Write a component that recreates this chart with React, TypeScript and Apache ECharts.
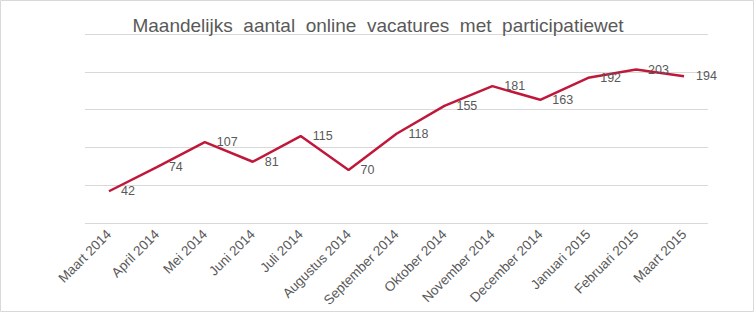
import React, { useEffect, useRef } from "react";
import * as echarts from "echarts";

const titleText = "Maandelijks  aantal  online  vacatures  met  participatiewet";
const categories = [
  "Maart 2014",
  "April 2014",
  "Mei 2014",
  "Juni 2014",
  "Juli 2014",
  "Augustus 2014",
  "September 2014",
  "Oktober 2014",
  "November 2014",
  "December 2014",
  "Januari 2015",
  "Februari 2015",
  "Maart 2015",
];
const vacatures = [42, 74, 107, 81, 115, 70, 118, 155, 181, 163, 192, 203, 194];

export default function App() {
  const ref = useRef<HTMLDivElement>(null);
  useEffect(() => {
    if (!ref.current) return;
    const chart = echarts.init(ref.current, null, { renderer: "svg" });
    chart.setOption({
      animation: false,
      backgroundColor: "#ffffff",
      textStyle: { fontFamily: "Liberation Sans, Arial, sans-serif" },
      title: {
        text: titleText,
        left: "center",
        top: 11,
        textStyle: {
          fontSize: 19,
          fontWeight: "normal",
          color: "#595959",
          fontFamily: "Liberation Sans, Arial, sans-serif",
        },
      },
      graphic: [
        {
          type: "rect",
          shape: { x: 0.5, y: 0.5, width: 753, height: 311 },
          style: { fill: "none", stroke: "#d9d9d9", lineWidth: 1 },
          silent: true,
        },
      ],
      grid: { left: 85, right: 48, top: 34, bottom: 90, containLabel: false },
      xAxis: {
        type: "category",
        data: categories,
        boundaryGap: true,
        axisLine: { show: false },
        axisTick: { show: false },
        axisLabel: {
          rotate: 45,
          interval: 0,
          margin: 9,
          color: "#595959",
          fontSize: 13.5,
        },
      },
      yAxis: {
        type: "value",
        min: 0,
        max: 250,
        interval: 50,
        axisLabel: { show: false },
        axisLine: { show: false },
        axisTick: { show: false },
        splitLine: { show: true, lineStyle: { color: "#d9d9d9", width: 1 } },
      },
      series: [
        {
          type: "line",
          data: vacatures,
          symbol: "circle",
          symbolSize: 0,
          showSymbol: true,
          lineStyle: { color: "#C0183A", width: 2.5 },
          itemStyle: { color: "#C0183A" },
          label: {
            show: true,
            position: "right",
            distance: 12,
            color: "#595959",
            fontSize: 12.5,
          },
        },
      ],
    });
    return () => chart.dispose();
  }, []);
  return (
    <div
      ref={ref}
      style={{ position: "absolute", left: 0, top: 0, width: 756, height: 313 }}
    />
  );
}
